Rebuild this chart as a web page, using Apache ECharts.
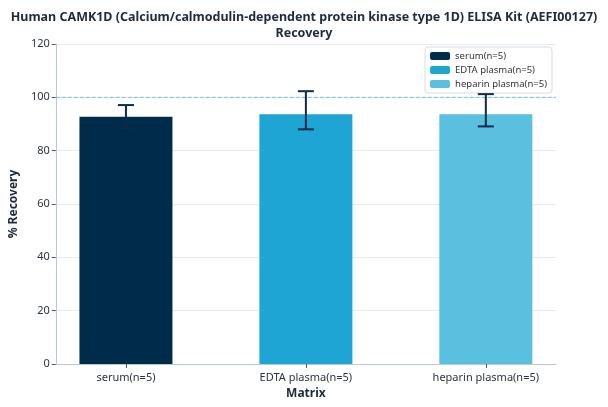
<!DOCTYPE html>
<html><head><meta charset="utf-8">
<script src="https://cdn.jsdelivr.net/npm/echarts@6/dist/echarts.min.js"></script>
<style>html,body{margin:0;padding:0;background:#fff}#c{width:608px;height:407px}</style>
</head><body><div id="c"></div>
<script>
const categories = ['serum(n=5)', 'EDTA plasma(n=5)', 'heparin plasma(n=5)'];
const recovery = [92.7, 93.7, 93.7];
const errLow = [88.4, 88.0, 89.1];
const errHigh = [97.1, 102.3, 101.2];
const refValue = 100;
const colors = ['#002b4a', '#1fa5d3', '#5bbfe0'];

const chart = echarts.init(document.getElementById('c'));
const textColor = '#1d2b3a';
const series = categories.map((name, i) => ({
  name: name,
  type: 'bar',
  barWidth: 93,
  barGap: '-100%',
  itemStyle: { color: colors[i] },
  data: [[i, recovery[i]]],
  z: 2
}));
series.push({
  type: 'custom',
  name: 'ref',
  z: 1,
  silent: true,
  renderItem: function (params, api) {
    const cs = params.coordSys;
    const p = api.coord([0, api.value(1)]);
    return {
      type: 'line',
      shape: { x1: cs.x, y1: p[1], x2: cs.x + cs.width, y2: p[1] },
      style: { stroke: '#6cbfe4', lineWidth: 1, lineDash: [4, 2] }
    };
  },
  data: [[0, refValue]]
});
series.push({
  type: 'custom',
  name: 'err',
  z: 5,
  renderItem: function (params, api) {
    const x = api.value(0);
    const lo = api.coord([x, api.value(1)]);
    const hi = api.coord([x, api.value(2)]);
    const w = 8;
    const st = { stroke: '#0d2a48', lineWidth: 2 };
    return {
      type: 'group',
      children: [
        { type: 'line', shape: { x1: lo[0], y1: lo[1], x2: hi[0], y2: hi[1] }, style: st },
        { type: 'line', shape: { x1: lo[0] - w, y1: lo[1], x2: lo[0] + w, y2: lo[1] }, style: st },
        { type: 'line', shape: { x1: hi[0] - w, y1: hi[1], x2: hi[0] + w, y2: hi[1] }, style: st }
      ]
    };
  },
  data: categories.map((c, i) => [i, errLow[i], errHigh[i]])
});

chart.setOption({
  animation: false,
  textStyle: { fontFamily: 'Noto Sans' },
  title: {
    text: 'Human CAMK1D (Calcium/calmodulin-dependent protein kinase type 1D) ELISA Kit (AEFI00127)\nRecovery',
    left: 'center', top: 4,
    textStyle: { fontSize: 12.5, fontWeight: 'bold', color: '#1d2b3a', lineHeight: 16, fontFamily: 'Noto Sans' }
  },
  legend: {
    data: categories,
    orient: 'vertical',
    right: 56, top: 47,
    itemWidth: 20, itemHeight: 8, itemGap: 4,
    padding: [4, 5, 4, 5],
    borderColor: '#d5dde3', borderWidth: 1, borderRadius: 3,
    backgroundColor: '#fff',
    textStyle: { fontSize: 9.5, color: '#333' }
  },
  grid: { left: 53, right: 52, top: 44, bottom: 43 },
  xAxis: {
    type: 'value', min: -0.39, max: 2.39,
    name: 'Matrix', nameLocation: 'middle', nameGap: 22,
    nameTextStyle: { fontSize: 12, fontWeight: 'bold', color: textColor },
    axisLine: { show: true, onZero: false, lineStyle: { color: '#b8c8d4' } },
    axisTick: { show: true, customValues: [0, 1, 2], length: 4, lineStyle: { color: '#555' } },
    axisLabel: { customValues: [0, 1, 2], formatter: v => categories[Math.round(v)], fontSize: 11, color: '#2b3440', margin: 8 },
    splitLine: { show: false }
  },
  yAxis: {
    type: 'value', min: 0, max: 120, interval: 20,
    name: '% Recovery', nameLocation: 'middle', nameGap: 30,
    nameTextStyle: { fontSize: 12, fontWeight: 'bold', color: textColor },
    axisLine: { show: true, onZero: false, lineStyle: { color: '#b8c8d4' } },
    axisTick: { show: true, length: 4, lineStyle: { color: '#555' } },
    axisLabel: { fontSize: 11, color: '#2b3440', margin: 6 },
    splitLine: { show: true, lineStyle: { color: '#e4ebf0', width: 1 } }
  },
  series: series
});
</script></body></html>
